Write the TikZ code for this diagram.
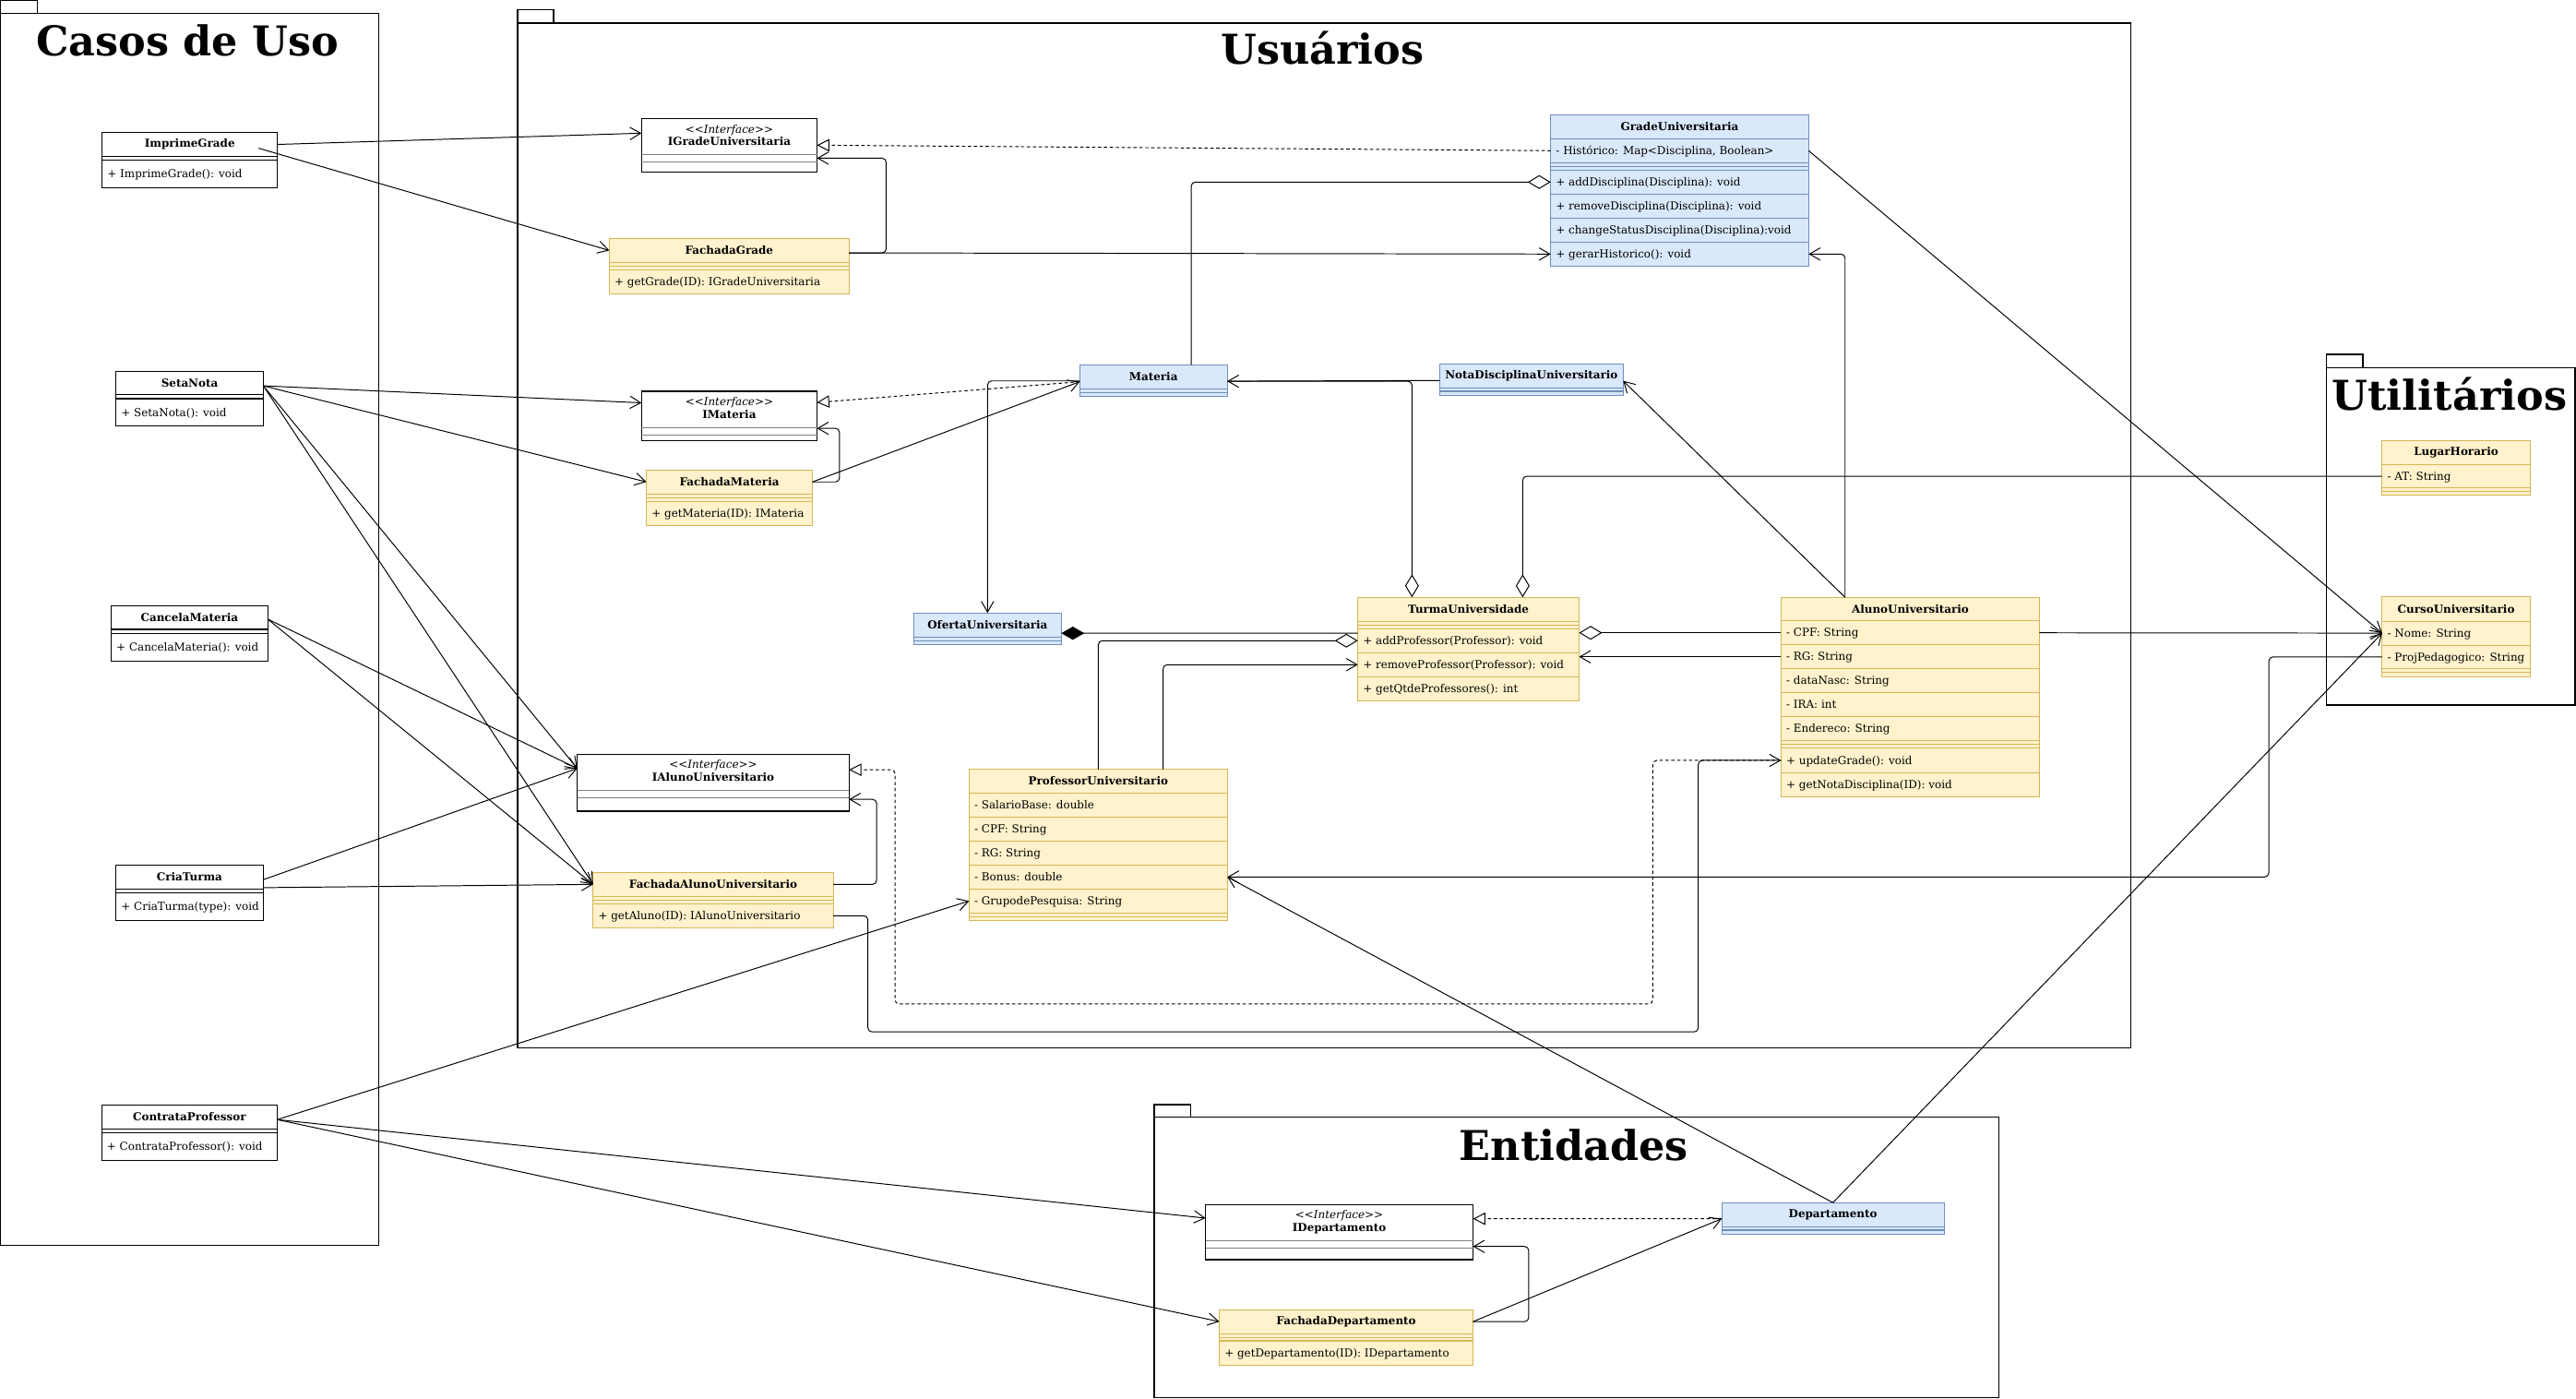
\documentclass[tikz,border=0pt]{standalone}
\usepackage{fontspec}
\setmainfont{DejaVu Serif}
\usetikzlibrary{arrows.meta,calc}
\definecolor{bfill}{HTML}{DAE8FC}
\definecolor{bline}{HTML}{6C8EBF}
\definecolor{yfill}{HTML}{FFF2CC}
\definecolor{yline}{HTML}{D6B656}
\newcommand{\mfont}{\fontsize{6.7}{7.7}\selectfont}
\newcommand{\hfont}{\fontsize{6.7}{7.7}\selectfont\bfseries}
\newcommand{\tfont}{\fontsize{25}{30}\selectfont\bfseries}
\tikzset{
 box/.style={draw, rectangle, inner sep=0pt, outer sep=0pt, anchor=north west, line width=0.6pt},
 wbox/.style={box, fill=white, draw=black},
 ybox/.style={box, fill=yfill, draw=yline},
 bbox/.style={box, fill=bfill, draw=bline},
 rowtext/.style={anchor=base west, inner sep=0pt, xshift=3pt, font=\mfont},
 pkg/.style={draw=black, line width=0.7pt},
 ttl/.style={font=\tfont, inner sep=0pt, anchor=base},
 con/.style={draw, line width=0.55pt, rounded corners=2.5pt},
 oa/.style={con, -{Straight Barb[length=6.5pt,width=7.5pt]}},
 rz/.style={con, dash pattern=on 2pt off 1.6pt, -{Triangle[open,length=7.5pt,width=7.5pt,fill=white]}},
 ag/.style={con, -{Diamond[open,length=14pt,width=8.4pt,fill=white]}},
 ags/.style={con, {Diamond[open,length=14pt,width=8.4pt,fill=white]}-},
 agsoa/.style={con, {Diamond[open,length=14pt,width=8.4pt,fill=white]}-{Straight Barb[length=6.5pt,width=7.5pt]}},
 co/.style={con, {Diamond[length=14pt,width=8pt]}-},
}
\newcommand{\umlhdr}[7]{\pgfmathsetmacro{\umlh}{#5-#4}\node[#1, font=\hfont, minimum width=#6pt, minimum height=\umlh pt] (#2) at (#3,#4) {#7};}
\newcommand{\umlsep}[6]{\pgfmathsetmacro{\umlh}{#5-#4}\node[#1, minimum width=#6pt, minimum height=\umlh pt] (#2) at (#3,#4) {};}
\newcommand{\umlrow}[7]{\pgfmathsetmacro{\umlh}{#5-#4}\node[#1, minimum width=#6pt, minimum height=\umlh pt] (#2) at (#3,#4) {};\node[rowtext] (#2-t) at ([yshift=-2.4pt]#2.west) {#7};}
\newcommand{\uiface}[8]{%
 \pgfmathsetmacro{\umla}{#4-#3}\pgfmathsetmacro{\umlb}{#5-#4}\pgfmathsetmacro{\umlc}{#6-#5}\pgfmathsetmacro{\umlt}{#6-#3}%
 \node[wbox, line width=0.7pt, minimum width=#7pt, minimum height=\umlt pt] (#1) at (#2,#3) {};
 \node[box, draw=none, minimum width=#7pt, minimum height=\umla pt] (#1-h) at (#2,#3) {};
 \node[box, draw=none, minimum width=#7pt, minimum height=\umlb pt] (#1-m) at (#2,#4) {};
 \node[box, draw=none, minimum width=#7pt, minimum height=\umlc pt] (#1-b) at (#2,#5) {};
 \draw[gray, line width=0.5pt] (#1-m.north west) -- (#1-m.north east) (#1-m.south west) -- (#1-m.south east);
 \node[font=\mfont, anchor=base, inner sep=0pt] (#1-t1) at ([yshift=-8.8pt]#1.north) {<{}<\textit{Interface}>{}>};
 \node[font=\hfont, anchor=base, inner sep=0pt] (#1-t2) at ([yshift=-16.5pt]#1.north) {#8};}
\begin{document}
\begin{tikzpicture}[x=1pt,y=-1pt]
\useasboundingbox[fill=white] (0,0) rectangle (1568,851);
% packages
\draw[pkg] (0.4,0.4) rectangle (22.7,8) (0.4,8) rectangle (230.7,758);
\node[ttl] (ttl-casos) at (114.2,33.7) {Casos de Uso};
\draw[pkg] (315,6) rectangle (337,14) (315,14) rectangle (1297,637.5);
\node[ttl] (ttl-usu) at (805,39) {Usuários};
\draw[pkg] (1416,215.7) rectangle (1438.3,224) (1416,224) rectangle (1567.4,429);
\node[ttl] (ttl-util) at (1491,249.4) {Utilitários};
\draw[pkg] (702.5,672.3) rectangle (724.8,680) (702.5,680) rectangle (1216.5,850.4);
\node[ttl] (ttl-ent) at (958,706) {Entidades};
% use cases
\umlhdr{wbox}{ig}{62.2}{80.7}{95.1}{106.7}{ImprimeGrade}
\umlsep{wbox}{ig-s}{62.2}{95.1}{97.3}{106.7}
\umlrow{wbox}{ig-m1}{62.2}{97.3}{114.2}{106.7}{+ ImprimeGrade(): void}
\umlhdr{wbox}{sn}{70.6}{225.8}{240.2}{89.7}{SetaNota}
\umlsep{wbox}{sn-s}{70.6}{240.2}{242.6}{89.7}
\umlrow{wbox}{sn-m1}{70.6}{242.6}{259.3}{89.7}{+ SetaNota(): void}
\umlhdr{wbox}{cm}{67.7}{368.6}{383}{95.3}{CancelaMateria}
\umlsep{wbox}{cm-s}{67.7}{383}{385.3}{95.3}
\umlrow{wbox}{cm-m1}{67.7}{385.3}{402.3}{95.3}{+ CancelaMateria(): void}
\umlhdr{wbox}{ct}{70.6}{526.4}{541}{89.5}{CriaTurma}
\umlsep{wbox}{ct-s}{70.6}{541}{543.3}{89.5}
\umlrow{wbox}{ct-m1}{70.6}{543.3}{560.1}{89.5}{+ CriaTurma(type): void}
\umlhdr{wbox}{cp}{61.9}{672.4}{686.9}{106.8}{ContrataProfessor}
\umlsep{wbox}{cp-s}{61.9}{686.9}{689.1}{106.8}
\umlrow{wbox}{cp-m1}{61.9}{689.1}{706.1}{106.8}{+ ContrataProfessor(): void}
% interfaces
\uiface{igrade}{390.5}{72.1}{94}{98.5}{104.6}{106.8}{IGradeUniversitaria}
\uiface{imat}{390.5}{238.1}{260.2}{264.7}{268.1}{106.8}{IMateria}
\uiface{ial}{351.4}{459}{480.9}{485.4}{493.7}{165.4}{IAlunoUniversitario}
\uiface{idep}{733.8}{733}{754.8}{759.3}{766.6}{162.8}{IDepartamento}
% facades
\umlhdr{ybox}{fgrade}{370.9}{145.1}{159.7}{145.9}{FachadaGrade}
\umlsep{ybox}{fgrade-s1}{370.9}{159.7}{161.9}{145.9}
\umlsep{ybox}{fgrade-s2}{370.9}{161.9}{164.2}{145.9}
\umlrow{ybox}{fgrade-m1}{370.9}{164.2}{178.8}{145.9}{+ getGrade(ID): IGradeUniversitaria}
\umlhdr{ybox}{fmat}{393.5}{286}{300.6}{101}{FachadaMateria}
\umlsep{ybox}{fmat-s1}{393.5}{300.6}{302.9}{101}
\umlsep{ybox}{fmat-s2}{393.5}{302.9}{305.1}{101}
\umlrow{ybox}{fmat-m1}{393.5}{305.1}{319.7}{101}{+ getMateria(ID): IMateria}
\umlhdr{ybox}{fal}{361}{530.9}{545.5}{146.2}{FachadaAlunoUniversitario}
\umlsep{ybox}{fal-s1}{361}{545.5}{547.8}{146.2}
\umlsep{ybox}{fal-s2}{361}{547.8}{550}{146.2}
\umlrow{ybox}{fal-m1}{361}{550}{564.6}{146.2}{+ getAluno(ID): IAlunoUniversitario}
\umlhdr{ybox}{fdep}{742.2}{797}{811.6}{154.4}{FachadaDepartamento}
\umlsep{ybox}{fdep-s1}{742.2}{811.6}{813.8}{154.4}
\umlsep{ybox}{fdep-s2}{742.2}{813.8}{816}{154.4}
\umlrow{ybox}{fdep-m1}{742.2}{816}{830.7}{154.4}{+ getDepartamento(ID): IDepartamento}
% grade
\umlhdr{bbox}{grade}{943.9}{69.8}{84.4}{157}{GradeUniversitaria}
\umlrow{bbox}{grade-a1}{943.9}{84.4}{99}{157}{- Histórico: Map<Disciplina, Boolean>}
\umlsep{bbox}{grade-s1}{943.9}{99}{101.3}{157}
\umlsep{bbox}{grade-s2}{943.9}{101.3}{103.5}{157}
\umlrow{bbox}{grade-m1}{943.9}{103.5}{118.1}{157}{+ addDisciplina(Disciplina): void}
\umlrow{bbox}{grade-m2}{943.9}{118.1}{132.7}{157}{+ removeDisciplina(Disciplina): void}
\umlrow{bbox}{grade-m3}{943.9}{132.7}{147.3}{157}{+ changeStatusDisciplina(Disciplina):void}
\umlrow{bbox}{grade-m4}{943.9}{147.3}{161.9}{157}{+ gerarHistorico(): void}
% small blue classes
\umlhdr{bbox}{materia}{657.2}{222}{236.6}{89.8}{Materia}
\umlsep{bbox}{materia-s1}{657.2}{236.6}{238.9}{89.8}
\umlsep{bbox}{materia-s2}{657.2}{238.9}{241.1}{89.8}
\umlhdr{bbox}{oferta}{556.2}{373}{387.7}{89.8}{OfertaUniversitaria}
\umlsep{bbox}{oferta-s1}{556.2}{387.7}{389.8}{89.8}
\umlsep{bbox}{oferta-s2}{556.2}{389.8}{392.2}{89.8}
\umlhdr{bbox}{nota}{876.3}{221.5}{236}{111.7}{NotaDisciplinaUniversitario}
\umlsep{bbox}{nota-s1}{876.3}{236}{238.1}{111.7}
\umlsep{bbox}{nota-s2}{876.3}{238.1}{240.6}{111.7}
\umlhdr{bbox}{dep}{1048}{731.9}{746.4}{135.4}{Departamento}
\umlsep{bbox}{dep-s1}{1048}{746.4}{748.6}{135.4}
\umlsep{bbox}{dep-s2}{1048}{748.6}{750.9}{135.4}
% turma
\umlhdr{ybox}{turma}{826.5}{363.5}{378.1}{134.7}{TurmaUniversidade}
\umlsep{ybox}{turma-s1}{826.5}{378.1}{380.4}{134.7}
\umlsep{ybox}{turma-s2}{826.5}{380.4}{382.6}{134.7}
\umlrow{ybox}{turma-m1}{826.5}{382.6}{397.2}{134.7}{+ addProfessor(Professor): void}
\umlrow{ybox}{turma-m2}{826.5}{397.2}{411.8}{134.7}{+ removeProfessor(Professor): void}
\umlrow{ybox}{turma-m3}{826.5}{411.8}{426.5}{134.7}{+ getQtdeProfessores(): int}
% aluno
\umlhdr{ybox}{aluno}{1084.1}{363.5}{377.8}{157.3}{AlunoUniversitario}
\umlrow{ybox}{aluno-a1}{1084.1}{377.8}{392.4}{157.3}{- CPF: String}
\umlrow{ybox}{aluno-a2}{1084.1}{392.4}{407}{157.3}{- RG: String}
\umlrow{ybox}{aluno-a3}{1084.1}{407}{421.6}{157.3}{- dataNasc: String}
\umlrow{ybox}{aluno-a4}{1084.1}{421.6}{436.2}{157.3}{- IRA: int}
\umlrow{ybox}{aluno-a5}{1084.1}{436.2}{450.8}{157.3}{- Endereco: String}
\umlsep{ybox}{aluno-s1}{1084.1}{450.8}{453}{157.3}
\umlsep{ybox}{aluno-s2}{1084.1}{453}{455.3}{157.3}
\umlrow{ybox}{aluno-m1}{1084.1}{455.3}{470.2}{157.3}{+ updateGrade(): void}
\umlrow{ybox}{aluno-m2}{1084.1}{470.2}{484.7}{157.3}{+ getNotaDisciplina(ID): void}
% professor
\umlhdr{ybox}{prof}{589.9}{468.2}{482.6}{157.2}{ProfessorUniversitario}
\umlrow{ybox}{prof-a1}{589.9}{482.6}{497.4}{157.2}{- SalarioBase: double}
\umlrow{ybox}{prof-a2}{589.9}{497.4}{511.8}{157.2}{- CPF: String}
\umlrow{ybox}{prof-a3}{589.9}{511.8}{526.4}{157.2}{- RG: String}
\umlrow{ybox}{prof-a4}{589.9}{526.4}{541}{157.2}{- Bonus: double}
\umlrow{ybox}{prof-a5}{589.9}{541}{555.6}{157.2}{- GrupodePesquisa: String}
\umlsep{ybox}{prof-s1}{589.9}{555.6}{557.9}{157.2}
\umlsep{ybox}{prof-s2}{589.9}{557.9}{560.1}{157.2}
% utilitarios
\umlhdr{ybox}{lugar}{1450}{268}{282.6}{90}{LugarHorario}
\umlrow{ybox}{lugar-a1}{1450}{282.6}{297}{90}{- AT: String}
\umlsep{ybox}{lugar-s1}{1450}{297}{299.2}{90}
\umlsep{ybox}{lugar-s2}{1450}{299.2}{301.5}{90}
\umlhdr{ybox}{curso}{1450}{363.3}{378}{90}{CursoUniversitario}
\umlrow{ybox}{curso-a1}{1450}{378}{392.6}{90}{- Nome: String}
\umlsep{ybox}{curso-a2}{1450}{392.6}{407}{90}
\umlsep{ybox}{curso-s1}{1450}{407}{409.3}{90}
\umlsep{ybox}{curso-s2}{1450}{409.3}{411.7}{90}
\begin{scope}
\clip (1450,392.6) rectangle (1538.3,407);
\node[rowtext] (curso-a2-t) at ([yshift=-2.4pt]curso-a2.west) {- ProjPedagogico: String};
\end{scope}
% connectors
\draw[oa] (ig.east) -- ([yshift=2pt]igrade-h.west);
\draw[oa] ([xshift=-11.5pt,yshift=-2.3pt]ig.east) -- (fgrade.west);
\draw[oa] ([yshift=-1.5pt]fgrade.east) -- (grade-m4.west);
\draw[oa] ([yshift=-1.5pt]fgrade.east) -- ++(22.6,0) |- (igrade-m.east);
\draw[rz] (grade-a1.west) -- (igrade.east);
\draw[ag] ([xshift=23pt]materia.north) |- (grade-m1.west);
\draw[oa] ([xshift=-39.7pt]aluno.north) |- (grade-m4.east);
\draw[oa] (grade-a1.east) -- (curso-a1.west);
\draw[oa] ([yshift=-1.8pt]sn.east) -- ([yshift=4pt]imat-h.west);
\draw[oa] ([yshift=-1.8pt]sn.east) -- (fmat.west);
\draw[oa] ([yshift=-1.8pt]sn.east) -- ([yshift=2.3pt]ial-h.west);
\draw[oa] ([yshift=-1.8pt]sn.east) -- (fal.west);
\draw[rz] ([yshift=-3pt]materia.west) -- ([yshift=4.2pt]imat-h.east);
\draw[oa] (fmat.east) -- ++(16.5,0) |- ([yshift=1.8pt]imat-m.east);
\draw[oa] (fmat.east) -- ([yshift=-3pt]materia.west);
\draw[oa] ([yshift=-2.5pt]materia.west) -| (oferta.north);
\draw[agsoa] ([xshift=-34.4pt]turma.north) |- ([yshift=-2.7pt]materia.east);
\draw[con] ([yshift=-2.8pt]nota.west) -- ([yshift=-2.7pt]materia.east);
\draw[ags] ([xshift=33pt]turma.north) |- (lugar-a1.west);
\draw[oa] ([xshift=-39.7pt]aluno.north) -- ([yshift=-3pt]nota.east);
\draw[co] ([yshift=-5pt]oferta.east) -- ([yshift=4.6pt]turma-m1.west);
\draw[ag] (prof.north) |- (turma-m1.west);
\draw[oa] ([xshift=39.5pt]prof.north) |- (turma-m2.west);
\draw[ag] (aluno-a1.west) -- (aluno-a1.west -| turma-m1.east);
\draw[oa] (aluno-a2.west) -- (aluno-a2.west -| turma-m2.east);
\draw[oa] (aluno-a1.east) -- (curso-a1.west);
\draw[oa] (curso-a2.west) -- ++(-69,0) |- (prof-a4.east);
\draw[oa] (dep.north) -- (prof-a4.east);
\draw[oa] (dep.north) -- (curso-a1.west);
\coordinate (dA) at (1006,611);
\coordinate (dB) at (544.8,611);
\draw[rz] (aluno-m1.west) -| (dA) -- (dB) |- ([yshift=1.5pt]ial-h.east);
\coordinate (sA) at (528.3,628);
\coordinate (sB) at (1033.7,628);
\draw[oa] (fal-m1.east) -| (sA) -- (sB) |- (aluno-m1.west);
\draw[oa] (fal.east) -- ++(26.4,0) |- ([yshift=-3.3pt]ial-m.east);
\draw[oa] ([yshift=-1pt]cm.east) -- ([yshift=2.3pt]ial-h.west);
\draw[oa] ([yshift=-1pt]cm.east) -- (fal.west);
\draw[oa] ([yshift=-1.7pt]ct.east) -- ([yshift=2.3pt]ial-h.west);
\draw[oa] ([yshift=-6.5pt]ct.east) -- (fal.west);
\draw[oa] ([yshift=-1.7pt]cp.east) -- (prof-a5.west);
\draw[oa] ([yshift=-1.7pt]cp.east) -- ([yshift=2.6pt]idep-h.west);
\draw[oa] ([yshift=-1.7pt]cp.east) -- (fdep.west);
\draw[rz] ([yshift=-2.5pt]dep.west) -- ([yshift=2.2pt]idep-h.east);
\draw[oa] (fdep.east) -- ++(33.9,0) |- ([yshift=-1.5pt]idep-m.east);
\draw[oa] (fdep.east) -- ([yshift=-2.5pt]dep.west);
\end{tikzpicture}
\end{document}
